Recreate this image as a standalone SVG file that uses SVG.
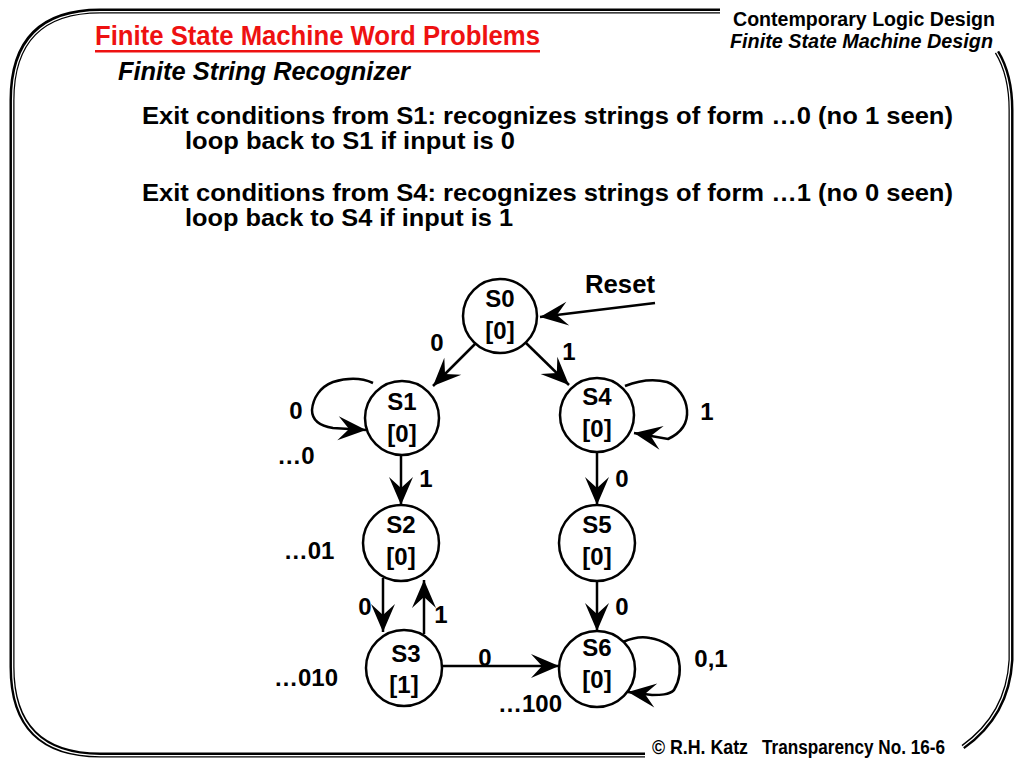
<svg xmlns="http://www.w3.org/2000/svg" width="1024" height="768" viewBox="0 0 1024 768">
<style>
.t{font-family:"Liberation Sans",Arial,sans-serif;font-weight:bold;fill:#000}
.n{font-family:"Liberation Sans",Arial,sans-serif;font-weight:bold;font-size:24px;fill:#000;text-anchor:middle}
.st{fill:#fff;stroke:#000;stroke-width:2.5}
.e{fill:none;stroke:#000;stroke-width:2.5}
.fo{fill:none;stroke:#000;stroke-width:5}
.fi{fill:none;stroke:#fff;stroke-width:1.3}
</style>
<defs>
<marker id="ah" markerUnits="userSpaceOnUse" markerWidth="34" markerHeight="34" viewBox="-30 -15 34 30" refX="0" refY="0" orient="auto">
<path d="M0,0 L-28,-12 L-17,0 L-28,12 Z" fill="#000"/>
</marker>
</defs>
<rect width="1024" height="768" fill="#fff"/>
<g id="frame">
<path d="M720,11 L100,11 Q12,11 12,100 L12,667 Q12,755 100,755 L645,755" class="fo"/>
<path d="M720,11 L100,11 Q12,11 12,100 L12,667 Q12,755 100,755 L645,755" class="fi" transform="translate(0.6,0.6)"/>
<path d="M997,52 Q1011,75 1011,110 L1011,660 Q1008,715 963,747" class="fo"/>
<path d="M997,52 Q1011,75 1011,110 L1011,660 Q1008,715 963,747" class="fi" transform="translate(-0.6,0)"/>
</g>
<g id="header">
<text class="t" x="95" y="45" font-size="27" style="fill:#e11" textLength="445" lengthAdjust="spacingAndGlyphs">Finite State Machine Word Problems</text>
<rect x="95" y="50" width="445" height="2.5" fill="#e11"/>
<text class="t" x="733" y="26" font-size="20" textLength="262" lengthAdjust="spacingAndGlyphs">Contemporary Logic Design</text>
<text class="t" x="730" y="48" font-size="20" font-style="italic" textLength="263" lengthAdjust="spacingAndGlyphs">Finite State Machine Design</text>
<text class="t" x="118" y="80" font-size="26" font-style="italic" textLength="292" lengthAdjust="spacingAndGlyphs">Finite String Recognizer</text>
<text class="t" x="142" y="124" font-size="24" textLength="811" lengthAdjust="spacingAndGlyphs">Exit conditions from S1: recognizes strings of form …0 (no 1 seen)</text>
<text class="t" x="185" y="149" font-size="24" textLength="330" lengthAdjust="spacingAndGlyphs">loop back to S1 if input is 0</text>
<text class="t" x="142" y="201" font-size="24" textLength="811" lengthAdjust="spacingAndGlyphs">Exit conditions from S4: recognizes strings of form …1 (no 0 seen)</text>
<text class="t" x="185" y="226" font-size="24" textLength="328" lengthAdjust="spacingAndGlyphs">loop back to S4 if input is 1</text>
</g>
<g id="connectors">
<line x1="655" y1="303" x2="540" y2="317" class="e" marker-end="url(#ah)"/>
<line x1="476" y1="343" x2="433" y2="386" class="e" marker-end="url(#ah)"/>
<line x1="526" y1="343" x2="569" y2="385" class="e" marker-end="url(#ah)"/>
<path d="M373,383 C362,378 350,377 333,382 C320,387 313,398 312,410 C312,420 320,426 333,428 L366,430" class="e" marker-end="url(#ah)"/>
<path d="M625,386 C640,380 655,379 667,382 C678,386 686,398 687,410 C688,422 683,432 668,439 L634,433" class="e" marker-end="url(#ah)"/>
<line x1="401" y1="456" x2="401" y2="505" class="e" marker-end="url(#ah)"/>
<line x1="597" y1="453" x2="597" y2="505" class="e" marker-end="url(#ah)"/>
<line x1="383" y1="578" x2="383" y2="632" class="e" marker-end="url(#ah)"/>
<line x1="424" y1="634" x2="424" y2="580" class="e" marker-end="url(#ah)"/>
<line x1="597" y1="581" x2="597" y2="631" class="e" marker-end="url(#ah)"/>
<line x1="442" y1="666" x2="559" y2="666" class="e" marker-end="url(#ah)"/>
<path d="M623,642 C632,638 640,636 650,638 C662,640 674,646 678,657 C681,668 680,680 674,690 C669,695 660,695 652,695 L628,692" class="e" marker-end="url(#ah)"/>
</g>
<g id="labels">
<text class="t" x="585" y="293" font-size="25" textLength="70" lengthAdjust="spacingAndGlyphs">Reset</text>
<text class="n" x="437" y="351">0</text>
<text class="n" x="569" y="360">1</text>
<text class="n" x="296" y="419">0</text>
<text class="n" x="296" y="464">…0</text>
<text class="n" x="707" y="420">1</text>
<text class="n" x="426" y="487">1</text>
<text class="n" x="622" y="487">0</text>
<text class="n" x="309" y="559">…01</text>
<text class="n" x="365" y="615">0</text>
<text class="n" x="441" y="623">1</text>
<text class="n" x="622" y="615">0</text>
<text class="n" x="485" y="666">0</text>
<text class="n" x="711" y="667">0,1</text>
<text class="n" x="306" y="686">…010</text>
<text class="n" x="530" y="712">…100</text>
</g>
<g id="S0"><circle cx="500" cy="316" r="37" class="st"/><text class="n" x="500" y="307">S0</text><text class="n" x="500" y="339">[0]</text></g>
<g id="S1"><circle cx="402" cy="418" r="37" class="st"/><text class="n" x="402" y="410">S1</text><text class="n" x="402" y="442">[0]</text></g>
<g id="S4"><circle cx="597" cy="415" r="37" class="st"/><text class="n" x="597" y="405">S4</text><text class="n" x="597" y="437">[0]</text></g>
<g id="S2"><circle cx="401" cy="543" r="38" class="st"/><text class="n" x="401" y="533">S2</text><text class="n" x="401" y="565">[0]</text></g>
<g id="S5"><circle cx="597" cy="543" r="38" class="st"/><text class="n" x="597" y="533">S5</text><text class="n" x="597" y="565">[0]</text></g>
<g id="S3"><circle cx="404" cy="668" r="38" class="st"/><text class="n" x="406" y="662">S3</text><text class="n" x="404" y="693">[1]</text></g>
<g id="S6"><circle cx="597" cy="669" r="38" class="st"/><text class="n" x="597" y="656">S6</text><text class="n" x="597" y="688">[0]</text></g>
<g id="footer">
<text class="t" x="652" y="754" font-size="20" textLength="96" lengthAdjust="spacingAndGlyphs">© R.H. Katz</text>
<text class="t" x="762" y="754" font-size="20" textLength="183" lengthAdjust="spacingAndGlyphs">Transparency No. 16-6</text>
</g>
</svg>
